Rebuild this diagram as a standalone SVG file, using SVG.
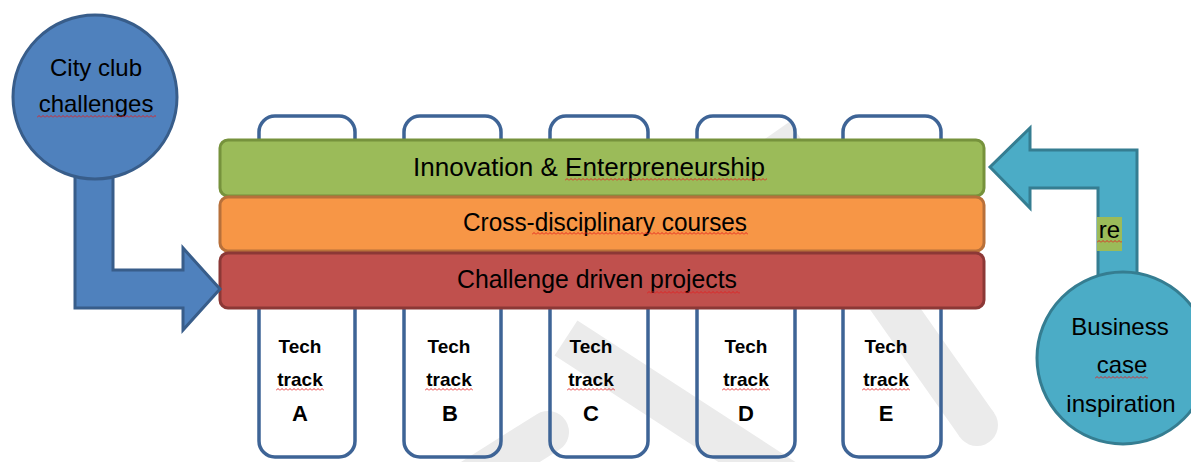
<svg xmlns="http://www.w3.org/2000/svg" width="1191" height="462" viewBox="0 0 1191 462">
  <style>
    .lbl { font-family: "Liberation Sans", Arial, sans-serif; fill: #000; text-anchor: middle; }
    .bar { font-size: 25px; }
    .circ { font-size: 24px; }
    .trk { font-size: 19px; font-weight: bold; }
    .ltr { font-size: 22px; font-weight: bold; }
    .track { fill: none; stroke: #3e6496; stroke-width: 3.5; }
    .wm { fill: none; stroke: #ebebeb; stroke-width: 42; }
  </style>
  <defs>
    <!-- red spell-check wave -->
    <pattern id="squiggle" width="4" height="3" patternUnits="userSpaceOnUse">
      <path d="M0,2.5 L2,0.5 L4,2.5" fill="none" stroke="#e31e1e" stroke-width="0.9"/>
    </pattern>
  </defs>

  <rect width="1191" height="462" fill="#ffffff"/>

  <!-- faint background watermark bands -->
  <g id="watermark">
    <path class="wm" d="M772,134 L977,425" stroke-linecap="butt"/>
    <circle cx="977" cy="425" r="21" fill="#ebebeb"/>
    <path class="wm" d="M566,338 L800,490"/>
    <path class="wm" d="M440,500 L548,432" stroke-linecap="round"/>
  </g>

  <!-- tech tracks (behind the layer bars) -->
  <g id="track-a">
    <rect class="track" x="259" y="116" width="96" height="341" rx="16"/>
    <text class="lbl trk" x="300" y="353">Tech</text>
    <text class="lbl trk" x="300" y="386">track</text>
    <text class="lbl ltr" x="300" y="421">A</text>
    <rect x="0" y="0" width="48" height="3" fill="url(#squiggle)" transform="translate(276,388)"/>
  </g>
  <g id="track-b">
    <rect class="track" x="404" y="116" width="97" height="341" rx="16"/>
    <text class="lbl trk" x="449" y="353">Tech</text>
    <text class="lbl trk" x="449" y="386">track</text>
    <text class="lbl ltr" x="450" y="421">B</text>
    <rect x="0" y="0" width="48" height="3" fill="url(#squiggle)" transform="translate(425,388)"/>
  </g>
  <g id="track-c">
    <rect class="track" x="550" y="116" width="98" height="341" rx="16"/>
    <text class="lbl trk" x="591" y="353">Tech</text>
    <text class="lbl trk" x="591" y="386">track</text>
    <text class="lbl ltr" x="591" y="421">C</text>
    <rect x="0" y="0" width="48" height="3" fill="url(#squiggle)" transform="translate(567,388)"/>
  </g>
  <g id="track-d">
    <rect class="track" x="697" y="116" width="98" height="341" rx="16"/>
    <text class="lbl trk" x="746" y="353">Tech</text>
    <text class="lbl trk" x="746" y="386">track</text>
    <text class="lbl ltr" x="746" y="421">D</text>
    <rect x="0" y="0" width="48" height="3" fill="url(#squiggle)" transform="translate(722,388)"/>
  </g>
  <g id="track-e">
    <rect class="track" x="843" y="116" width="98" height="341" rx="16"/>
    <text class="lbl trk" x="886" y="353">Tech</text>
    <text class="lbl trk" x="886" y="386">track</text>
    <text class="lbl ltr" x="886" y="421">E</text>
    <rect x="0" y="0" width="48" height="3" fill="url(#squiggle)" transform="translate(862,388)"/>
  </g>

  <!-- horizontal layers -->
  <g id="layer-innovation">
    <rect x="220" y="140" width="764" height="56" rx="8" fill="#9bbb59" stroke="#76923c" stroke-width="3"/>
    <text class="lbl bar" x="589" y="176" textLength="352" lengthAdjust="spacingAndGlyphs">Innovation &amp; Enterpreneurship</text>
    <rect x="0" y="0" width="202" height="3" fill="url(#squiggle)" transform="translate(565,178)"/>
  </g>
  <g id="layer-courses">
    <rect x="220" y="197" width="764" height="54" rx="8" fill="#f79646" stroke="#b8703a" stroke-width="3"/>
    <text class="lbl bar" x="605" y="231" textLength="284" lengthAdjust="spacingAndGlyphs">Cross-disciplinary courses</text>
    <rect x="0" y="0" width="216" height="3" fill="url(#squiggle)" transform="translate(532,232)"/>
  </g>
  <g id="layer-projects">
    <rect x="220" y="253" width="764" height="55" rx="8" fill="#c0504d" stroke="#8c3836" stroke-width="3"/>
    <text class="lbl bar" x="597" y="288" textLength="280" lengthAdjust="spacingAndGlyphs">Challenge driven projects</text>
    <rect x="0" y="0" width="93" height="3" fill="url(#squiggle)" transform="translate(647,291)"/>
  </g>

  <!-- bent block arrows -->
  <g id="connectors">
    <path d="M75,170 L113,170 L113,270 L183,270 L183,248 L220,289 L183,330 L183,308 L75,308 Z" fill="#4f81bd" stroke="#385d8a" stroke-width="3" stroke-linejoin="miter"/>
    <path d="M990,167 L1030,128 L1030,150 L1137,150 L1137,280 L1098,280 L1098,188 L1030,188 L1030,208 Z" fill="#4bacc6" stroke="#357d91" stroke-width="3" stroke-linejoin="miter"/>
  </g>

  <g id="city-club">
    <circle cx="95" cy="97" r="82" fill="#4f81bd" stroke="#385d8a" stroke-width="3"/>
    <text class="lbl circ" x="96" y="76">City club</text>
    <text class="lbl circ" x="96" y="112">challenges</text>
    <rect x="0" y="0" width="119" height="3" fill="url(#squiggle)" transform="translate(37,115)"/>
  </g>

  <g id="business-case">
    <circle cx="1123" cy="358" r="86" fill="#4bacc6" stroke="#357d91" stroke-width="3"/>
    <text class="lbl circ" x="1120" y="335">Business</text>
    <text class="lbl circ" x="1122" y="373">case</text>
    <text class="lbl circ" x="1121" y="412">inspiration</text>
    <rect x="0" y="0" width="53" height="3" fill="url(#squiggle)" transform="translate(1095,376)"/>
  </g>

  <g id="re-label">
    <rect x="1097" y="217" width="25" height="34" fill="#9bbb59"/>
    <text class="lbl circ" x="1109.5" y="238">re</text>
    <rect x="0" y="0" width="25" height="3" fill="url(#squiggle)" transform="translate(1097,240)"/>
  </g>
</svg>
